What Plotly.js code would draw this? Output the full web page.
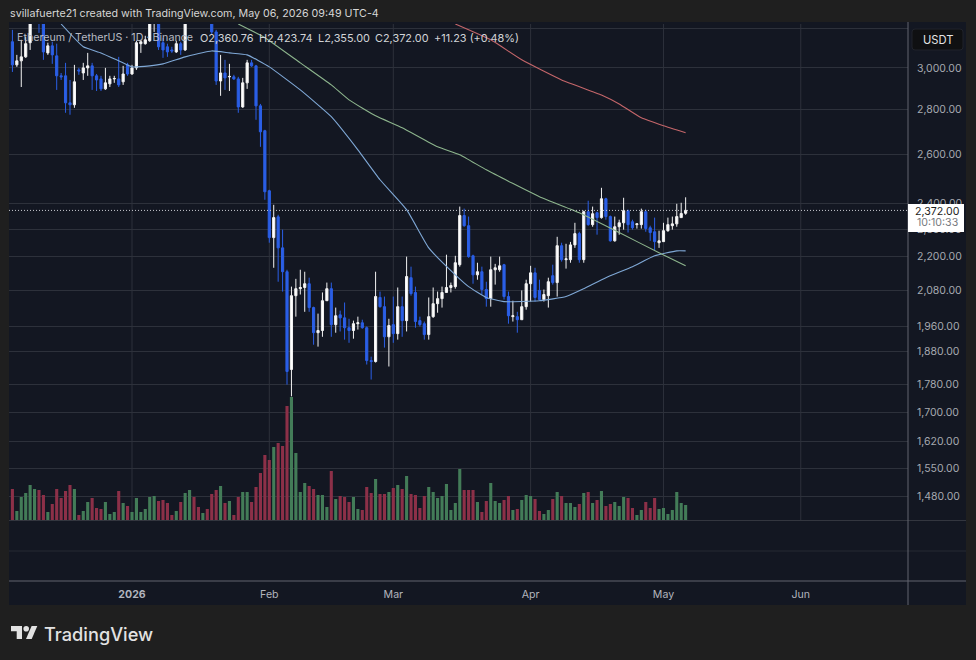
<!DOCTYPE html>
<html><head><meta charset="utf-8">
<script src="https://cdn.plot.ly/plotly-3.0.1.min.js"></script>
<style>html,body{margin:0;padding:0;background:#1f1f1f}#c{width:976px;height:660px}</style>
</head><body><div id="c"></div>
<script>
const opens = [3132,3015,3035,3055,3127,3247,3265,3240,3075,3111,
3060,2961,2961,2832,2823,2990,2975,3000,3010,2961,
2946,2898,2922,2946,2946,2932,3015,2970,3000,3122,
3122,3137,3236,3236,3127,3106,3090,3080,3122,3090,
3247,3310,3290,3270,3285,3247,3183,2936,2975,2956,
2956,2946,2813,2927,3025,3010,2818,2705,2450,2268,
2347,2230,2144,1825,2061,2085,2089,2102,2021,1939,
1946,2044,2085,1965,1997,1987,1955,1946,1968,1971,
1955,1852,1849,2055,2024,1926,1965,1936,2024,1978,
2123,2072,1978,1968,1933,1991,2034,2051,2072,2089,
2092,2169,2352,2313,2201,2133,2144,2082,2051,2151,
2151,2169,2058,1991,1991,1981,2024,2102,2140,2079,
2048,2061,2130,2106,2238,2187,2187,2241,2283,2187,
2367,2317,2363,2344,2418,2348,2256,2309,2324,2371,
2328,2317,2317,2367,2305,2290,2249,2253,2294,2313,
2320,2344,2360.76];
const highs = [3194,3065,3142,3158,3275,3290,3290,3260,3127,3132,
3122,2975,3025,2941,3015,3000,3025,3075,3025,2970,
2961,3000,2961,2961,3055,3010,3025,3015,3137,3142,
3163,3268,3275,3258,3153,3122,3106,3137,3132,3268,
3330,3345,3320,3305,3315,3275,3194,3065,3040,3020,
2966,2956,2951,3040,3040,3015,2827,2709,2454,2394,
2355,2298,2151,2092,2119,2151,2144,2123,2024,2001,
2072,2106,2106,2021,2011,2038,1984,1978,1991,1981,
1959,1864,2144,2075,2058,1984,2058,2089,2058,2198,
2162,2092,1991,1975,2055,2089,2075,2092,2205,2106,
2201,2387,2379,2348,2205,2176,2162,2109,2198,2172,
2198,2172,2075,2044,2007,2079,2116,2165,2158,2116,
2082,2123,2169,2271,2249,2245,2252,2324,2290,2371,
2410,2387,2367,2462,2422,2352,2348,2336,2422,2375,
2336,2320,2379,2375,2313,2344,2294,2324,2344,2348,
2398,2402,2423.74];
const lows = [2980,3005,2907,3050,3090,3230,3178,3040,3065,3020,
2893,2941,2786,2777,2809,2966,2941,2961,2893,2888,
2888,2893,2907,2927,2907,2917,2961,2966,2990,3075,
3117,3132,3183,3090,3050,3055,3075,3075,3065,3085,
3235,3270,3250,3245,3240,3168,2917,2865,2893,2888,
2941,2786,2809,2898,3005,2754,2634,2414,2249,2158,
2109,2075,1780,1746,1991,2065,2007,2007,1901,1895,
1926,2044,1926,1939,1943,1917,1907,1920,1949,1952,
1840,1795,1846,2021,1892,1834,1907,1917,1926,1943,
2061,1955,1959,1917,1917,1987,2004,2021,2072,2072,
2085,2162,2309,2194,2102,2116,2065,2024,2024,2099,
2144,2048,1968,1975,1939,1981,2014,2041,2041,2044,
2041,2021,2099,2058,2180,2155,2176,2230,2176,2176,
2313,2309,2279,2340,2336,2253,2253,2279,2298,2287,
2298,2302,2302,2290,2256,2219,2230,2253,2290,2298,
2309,2344,2355];
const closes = [3015,3035,3055,3122,3247,3265,3240,3080,3111,3065,
2961,2956,2832,2823,2932,2985,3000,3010,2961,2941,
2898,2927,2946,2948,2917,2970,2970,3000,3127,3132,
3142,3247,3258,3106,3090,3080,3085,3122,3090,3247,
3310,3290,3270,3285,3260,3183,2936,2975,2951,2958,
2946,2813,2927,3025,3010,2818,2700,2446,2268,2344,
2230,2144,1819,2061,2085,2089,2102,2021,1939,1946,
2044,2085,1965,1994,1987,1955,1946,1968,1971,1955,
1852,1849,2058,2024,1926,1962,1936,2024,1978,2127,
2068,1975,1965,1933,1991,2034,2051,2072,2089,2096,
2176,2352,2313,2198,2133,2144,2082,2051,2151,2158,
2165,2058,1994,1994,1981,2024,2102,2140,2055,2048,
2065,2109,2106,2238,2187,2190,2241,2283,2187,2367,
2317,2359,2344,2418,2348,2256,2309,2324,2371,2317,
2305,2320,2367,2302,2287,2253,2256,2294,2317,2320,
2348,2360,2372];
const volumes = [310,90,230,270,350,310,300,250,80,160,
310,220,290,350,310,50,90,180,220,120,
110,180,60,80,290,170,140,80,220,80,
110,230,240,190,200,170,50,90,180,270,
300,230,130,70,110,260,300,340,170,190,
50,230,280,280,180,330,470,650,600,730,
770,740,1140,1230,670,280,370,340,310,250,
250,130,490,210,240,230,180,230,110,100,
330,270,410,260,260,280,320,350,310,440,
260,250,120,240,330,280,220,240,360,100,
170,510,300,300,300,180,80,190,370,190,
170,200,240,100,110,200,250,240,210,90,
60,100,210,280,240,170,170,130,160,270,
280,170,200,290,140,160,180,140,230,220,
120,50,100,180,120,220,110,120,60,100,
280,170,150];

const ma50Dates = ['2025-12-16','2025-12-21','2025-12-25','2025-12-29','2026-01-01','2026-01-05','2026-01-08','2026-01-13','2026-01-19','2026-01-23','2026-01-27','2026-02-01','2026-02-08','2026-02-15','2026-02-21','2026-02-26','2026-03-04','2026-03-09','2026-03-15','2026-03-18','2026-03-22','2026-03-26','2026-04-03','2026-04-09','2026-04-13','2026-04-18','2026-04-24','2026-04-29','2026-05-04','2026-05-06'];
const ma50Values = [3225,3106,3075,3035,3005,3010,3020,3055,3085,3075,3065,3005,2893,2768,2621,2495,2375,2230,2133,2092,2055,2041,2044,2058,2085,2123,2162,2201,2219,2219];
const ma100Dates = ['2026-01-25','2026-01-31','2026-02-08','2026-02-15','2026-02-19','2026-02-25','2026-03-03','2026-03-11','2026-03-16','2026-03-22','2026-04-03','2026-04-12','2026-04-21','2026-04-30','2026-05-06'];
const ma100Values = [3225,3153,3025,2917,2846,2772,2718,2634,2600,2536,2426,2363,2287,2212,2165];
const ma200Dates = ['2026-03-15','2026-03-23','2026-03-30','2026-04-08','2026-04-17','2026-04-21','2026-04-26','2026-05-01','2026-05-06'];
const ma200Values = [3225,3142,3040,2941,2869,2827,2763,2727,2696];

const priceTicks = [3200,3000,2800,2600,2400,2300,2200,2080,1960,1880,1780,1700,1620,1550,1480];
const priceLabels = ['','3,000.00','2,800.00','2,600.00','2,400.00','2,300.00','2,200.00','2,080.00','1,960.00','1,880.00','1,780.00','1,700.00','1,620.00','1,550.00','1,480.00'];
const monthTicks = ['2026-01-01','2026-02-01','2026-03-01','2026-04-01','2026-05-01','2026-06-01'];
const monthLabels = ['<b>2026</b>','Feb','Mar','Apr','May','Jun'];
const lastPrice = 2372;

const dates = opens.map((_, i) => {
  const d = new Date(Date.UTC(2025, 11, 5 + i));
  return d.toISOString().slice(0, 10);
});

const FONT = 'Inter, "Liberation Sans", sans-serif';
const W = 976, H = 660, L = 9, R = 908, T = 24, B = 580;
const GRID = '#2d313b';
const px = x => (x - L) / (R - L);
const py = y => (B - y) / (B - T);

function rect(x0, y0, x1, y1, fill, layer) {
  return {type:'rect', xref:'paper', yref:'paper', x0:px(x0), x1:px(x1), y0:py(y0), y1:py(y1),
    fillcolor:fill, line:{width:0}, layer:layer||'below'};
}
function line(x0, y0, x1, y1, color, layer) {
  return {type:'line', xref:'paper', yref:'paper', x0:px(x0), x1:px(x1), y0:py(y0), y1:py(y1),
    line:{color:color, width:1}, layer:layer||'above'};
}
function poly(points, fill) {
  const d = 'M' + points.map(p => px(p[0]) + ',' + py(p[1])).join('L') + 'Z';
  return {type:'path', xref:'paper', yref:'paper', path:d, fillcolor:fill, line:{width:0}, layer:'above'};
}
function txt(x, y, text, size, color, anchor, extra) {
  return Object.assign({xref:'paper', yref:'paper', x:px(x), y:py(y), text:text, showarrow:false,
    xanchor:anchor||'left', yanchor:'middle', font:{family:FONT, size:size, color:color},
    borderpad:0}, extra||{});
}

const traces = [
  {type:'candlestick', x:dates, open:opens, high:highs, low:lows, close:closes, xaxis:'x', yaxis:'y',
   increasing:{line:{color:'#f2f2f2', width:1}, fillcolor:'#ffffff'},
   decreasing:{line:{color:'#2b5fe6', width:1}, fillcolor:'#2b5fe6'},
   whiskerwidth:0, hoverinfo:'skip', showlegend:false},
  {type:'scatter', mode:'lines', x:ma50Dates, y:ma50Values, line:{color:'#7fa8d6', width:1.1, shape:'spline', smoothing:0.4}, yaxis:'y', hoverinfo:'skip', showlegend:false},
  {type:'scatter', mode:'lines', x:ma100Dates, y:ma100Values, line:{color:'#8db58d', width:1.1, shape:'spline', smoothing:0.4}, yaxis:'y', hoverinfo:'skip', showlegend:false},
  {type:'scatter', mode:'lines', x:ma200Dates, y:ma200Values, line:{color:'#c4666a', width:1.1, shape:'spline', smoothing:0.4}, yaxis:'y', hoverinfo:'skip', showlegend:false},
  {type:'bar', x:dates, y:volumes, yaxis:'y2', xaxis:'x',
   marker:{color:closes.map((c, i) => c >= opens[i] ? '#437c58' : '#8c3048'), line:{width:0}},
   hoverinfo:'skip', showlegend:false}
];

const monthGrid = monthTicks.map(d => ({type:'line', xref:'x', yref:'paper', x0:d, x1:d, y0:py(520.5), y1:py(T),
  line:{color:GRID, width:1}, layer:'below'}));

const shapes = [
  rect(L, 22, 966, 605, '#131722')
].concat(monthGrid, [
  line(L, 520.5, 966, 520.5, '#33363f'),
  line(L, 551, 966, 551, '#262a33'),
  line(L, 581, 966, 581, '#62656e'),
  line(R, T-2, R, 605, '#62656e'),
  {type:'line', xref:'paper', yref:'y', x0:0, x1:1, y0:lastPrice, y1:lastPrice,
   line:{color:'#c8cad0', width:1, dash:'1px,2px'}, layer:'above'},
  rect(R, 204, 964, 232, '#ffffff', 'above'),
  {type:'path', xref:'paper', yref:'paper', layer:'above', fillcolor:'#0f1012', line:{color:'#20232b', width:1},
   path:'M'+px(915)+','+py(29)+'L'+px(960)+','+py(29)+'Q'+px(963)+','+py(29)+' '+px(963)+','+py(32)+
        'L'+px(963)+','+py(47)+'Q'+px(963)+','+py(50)+' '+px(960)+','+py(50)+
        'L'+px(915)+','+py(50)+'Q'+px(912)+','+py(50)+' '+px(912)+','+py(47)+
        'L'+px(912)+','+py(32)+'Q'+px(912)+','+py(29)+' '+px(915)+','+py(29)+'Z'},
  poly([[11,626],[22,626],[22,639],[16.7,639],[16.7,631.3],[11,631.3]], '#e2e2e2'),
  {type:'circle', xref:'paper', yref:'paper', x0:px(23.4), x1:px(29), y0:py(631.6), y1:py(626),
   fillcolor:'#e2e2e2', line:{width:0}, layer:'above'},
  poly([[31.6,626],[37.3,626],[31.7,639],[26,639]], '#e2e2e2')
]);

const annotations = [
  txt(9, 14, 'svillafuerte21 created with TradingView.com, May 06, 2026 09:49 UTC-4', 10.7, '#d6d6d6'),
  txt(16, 38, 'Ethereum / TetherUS · 1D · Binance', 10.7, '#b8bbc2'),
  txt(199, 38, 'O2,360.76', 10.9, '#d2d4d8'),
  txt(258, 38, 'H2,423.74', 10.9, '#d2d4d8'),
  txt(317, 38, 'L2,355.00', 10.9, '#d2d4d8'),
  txt(374, 38, 'C2,372.00', 10.9, '#d2d4d8'),
  txt(433, 38, '+11.23 (+0.48%)', 10.9, '#d2d4d8'),
  txt(937.5, 40, 'USDT', 11.2, '#e4e4e4', 'center'),
  txt(937.5, 211.5, '2,372.00', 10.6, '#1c1c1c', 'center'),
  txt(937.5, 222.5, '10:10:33', 10.6, '#777a80', 'center'),
  txt(43, 633.5, 'TradingView', 18.2, '#e2e2e2', 'left', {font:{family:'Inter, sans-serif', size:18.2, color:'#e2e2e2', weight:500}})
];

const layout = {
  width:W, height:H, autosize:false,
  margin:{l:L, r:W-R, t:T, b:H-B, pad:0},
  paper_bgcolor:'#1f1f1f', plot_bgcolor:'rgba(0,0,0,0)',
  font:{family:FONT, color:'#b2b5be', size:11},
  showlegend:false, bargap:0.3, boxgap:0.3, dragmode:false, hovermode:false,
  xaxis:{type:'date', range:['2025-12-04 05:30','2026-06-25 05:00'], rangeslider:{visible:false},
    tickmode:'array', tickvals:monthTicks, ticktext:monthLabels, showgrid:false,
    zeroline:false, showline:false, ticks:'', tickfont:{family:FONT, size:10.6, color:'#b2b5be'}, ticklabelstandoff:6},
  yaxis:{type:'log', range:[Math.log10(1290), Math.log10(3225)], side:'right',
    tickmode:'array', tickvals:priceTicks, ticktext:priceLabels, showgrid:true, gridcolor:GRID, gridwidth:1,
    zeroline:false, showline:false, ticks:'', tickfont:{family:FONT, size:10.5, color:'#a6a9b0'}, ticklabelstandoff:8},
  yaxis2:{overlaying:'y', side:'left', range:[-600, 4960], visible:false, showgrid:false, zeroline:false},
  shapes:shapes, annotations:annotations
};
Plotly.newPlot('c', traces, layout, {displayModeBar:false, staticPlot:true});
</script></body></html>
